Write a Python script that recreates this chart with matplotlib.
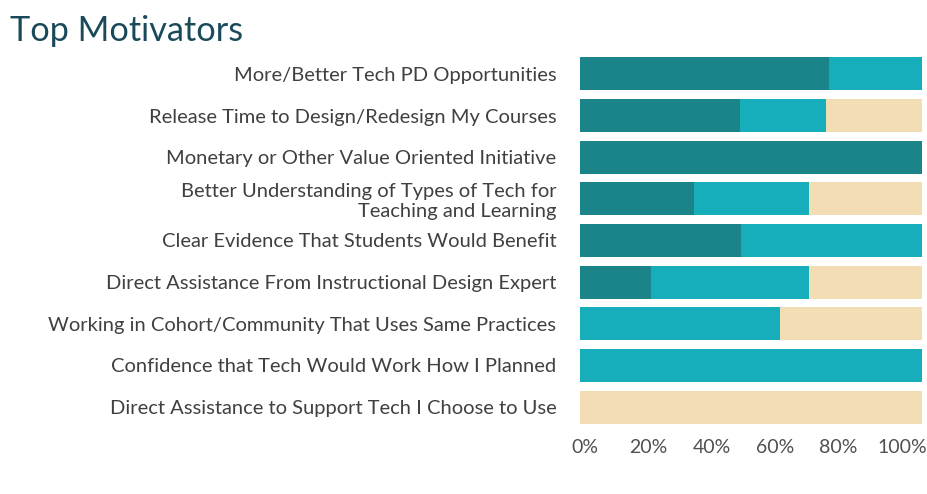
import matplotlib
matplotlib.use("Agg")
import matplotlib.pyplot as plt
from matplotlib.ticker import PercentFormatter
from matplotlib.transforms import ScaledTranslation

plt.rcParams['font.family'] = ['Lato', 'DejaVu Sans']

categories = [
    "More/Better Tech PD Opportunities",
    "Release Time to Design/Redesign My Courses",
    "Monetary or Other Value Oriented Initiative",
    "Better Understanding of Types of Tech for\nTeaching and Learning",
    "Clear Evidence That Students Would Benefit",
    "Direct Assistance From Instructional Design Expert",
    "Working in Cohort/Community That Uses Same Practices",
    "Confidence that Tech Would Work How I Planned",
    "Direct Assistance to Support Tech I Choose to Use",
]
series_dark = [72.7, 46.7, 100, 33.3, 47.1, 20.8, 0, 0, 0]
series_mid = [27.3, 25.1, 0, 33.6, 52.9, 46.2, 58.5, 100, 0]
series_light = [0, 28.2, 0, 33.1, 0, 33.0, 41.5, 0, 100]
colors = ["#1a8489", "#15aeba", "#f2ddb4"]
xticks = [0, 20, 40, 60, 80, 100]

fig = plt.figure(figsize=(9.27, 4.94), dpi=100)
W, H = 927, 494
ax = fig.add_axes([580 / W, 1 - 428 / H, (922 - 580) / W, (428 - 53) / H])

y = list(range(len(categories)))
left = [0] * len(categories)
for vals, c in zip([series_dark, series_mid, series_light], colors):
    ax.barh(y, vals, left=left, color=c, height=0.79, linewidth=0)
    left = [l + v for l, v in zip(left, vals)]

ax.set_xlim(0, 100)
ax.set_ylim(len(categories) - 0.5, -0.5)
ax.set_yticks(y)
ax.set_yticklabels(categories, fontsize=14.5, color="#404040", linespacing=1.2)
ax.set_xticks(xticks)
ax.xaxis.set_major_formatter(PercentFormatter(decimals=0))
ax.tick_params(axis='y', length=0, pad=17)
ax.tick_params(axis='x', length=0, pad=8, labelsize=14, labelcolor="#505050")
for s in ax.spines.values():
    s.set_visible(False)

# the reference's percent labels sit on a slightly compressed scale
fig.canvas.draw()
for val, lab in zip(xticks, ax.get_xticklabels()):
    dx = (5 - 0.25 * val) / 100.0
    lab.set_transform(lab.get_transform() + ScaledTranslation(dx, 0, fig.dpi_scale_trans))

fig.text(10 / W, 1 - 31 / H, "Top Motivators", fontsize=24.7, color="#1a4a5a",
         va="center", ha="left")

fig.savefig("out.png", dpi=100)
